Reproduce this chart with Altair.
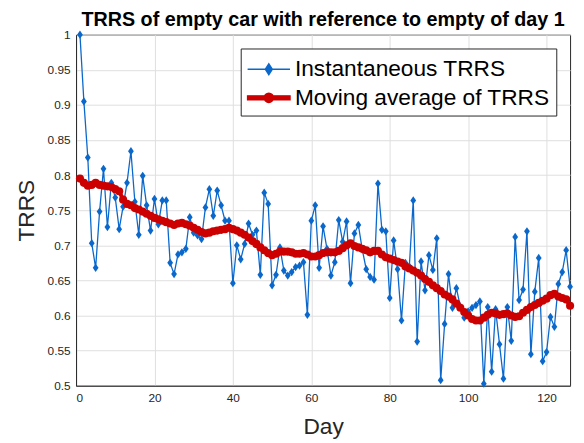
import altair as alt
import pandas as pd

# ---------------- data ----------------
days = list(range(1, 127))

instantaneous = [
    1.000, 0.905, 0.825, 0.703, 0.668, 0.748, 0.809, 0.726, 0.789, 0.768,
    0.723, 0.755, 0.789, 0.834, 0.762, 0.715, 0.799, 0.757, 0.721, 0.766,
    0.730, 0.764, 0.764, 0.675, 0.659, 0.687, 0.690, 0.695, 0.740, 0.718,
    0.714, 0.709, 0.754, 0.780, 0.742, 0.778, 0.757, 0.735, 0.735, 0.646,
    0.700, 0.680, 0.702, 0.731, 0.715, 0.721, 0.658, 0.775, 0.759, 0.643,
    0.658, 0.697, 0.664, 0.657, 0.662, 0.669, 0.671, 0.676, 0.601, 0.735,
    0.757, 0.668, 0.727, 0.695, 0.657, 0.676, 0.736, 0.705, 0.734, 0.646,
    0.717, 0.729, 0.694, 0.666, 0.655, 0.651, 0.788, 0.722, 0.720, 0.625,
    0.707, 0.666, 0.593, 0.675, 0.670, 0.764, 0.563, 0.677, 0.636, 0.686,
    0.665, 0.710, 0.508, 0.588, 0.659, 0.611, 0.639, 0.613, 0.597, 0.606,
    0.611, 0.615, 0.620, 0.503, 0.612, 0.520, 0.609, 0.559, 0.510, 0.612,
    0.564, 0.712, 0.622, 0.637, 0.720, 0.545, 0.634, 0.682, 0.535, 0.548,
    0.598, 0.584, 0.645, 0.662, 0.693, 0.641,
]

moving_avg = [
    0.795, 0.789, 0.785, 0.786, 0.789, 0.786, 0.785, 0.784, 0.783, 0.780,
    0.777, 0.765, 0.759, 0.757, 0.753, 0.751, 0.748, 0.745, 0.742, 0.739,
    0.737, 0.735, 0.733, 0.731, 0.729, 0.731, 0.732, 0.730, 0.728, 0.725,
    0.722, 0.719, 0.717, 0.718, 0.720, 0.721, 0.722, 0.723, 0.725, 0.723,
    0.721, 0.718, 0.715, 0.711, 0.706, 0.702, 0.697, 0.693, 0.689, 0.686,
    0.688, 0.691, 0.691, 0.691, 0.690, 0.688, 0.688, 0.689, 0.687, 0.684,
    0.684, 0.686, 0.689, 0.690, 0.690, 0.690, 0.692, 0.696, 0.700, 0.703,
    0.699, 0.697, 0.695, 0.693, 0.690, 0.692, 0.692, 0.687, 0.683, 0.681,
    0.679, 0.677, 0.675, 0.670, 0.667, 0.664, 0.661, 0.657, 0.652, 0.648,
    0.643, 0.639, 0.635, 0.630, 0.627, 0.623, 0.617, 0.611, 0.605, 0.600,
    0.595, 0.593, 0.593, 0.597, 0.601, 0.604, 0.603, 0.601, 0.602, 0.603,
    0.600, 0.598, 0.599, 0.604, 0.608, 0.612, 0.615, 0.618, 0.621, 0.624,
    0.629, 0.631, 0.627, 0.625, 0.623, 0.614,
]

series_names = ["Instantaneous TRRS", "Moving average of TRRS"]
x_ticks = [0, 20, 40, 60, 80, 100, 120]
y_ticks = [0.5, 0.55, 0.6, 0.65, 0.7, 0.75, 0.8, 0.85, 0.9, 0.95, 1.0]

# ---------------- styling ----------------
BLUE = "#0A68CC"
RED = "#CC0000"
FONT = "Liberation Sans"
AXIS_GREY = "#262626"

DIAMOND = "M0,-1L0.7,0L0,1L-0.7,0Z"
LEG_BLUE = "M-1,0H2.07M0.535,-0.39L0.785,0L0.535,0.39L0.285,0Z"
LEG_RED = ("M-1,-0.14H2.07V0.14H-1Z"
           "M0.87,0A0.335,0.335,0,1,1,0.2,0A0.335,0.335,0,1,1,0.87,0Z")

df_inst = pd.DataFrame({"day": days, "value": instantaneous})
df_avg = pd.DataFrame({"day": days, "value": moving_avg})
df_leg = pd.DataFrame({"day": [days[0], days[0]],
                       "value": [instantaneous[0], moving_avg[0]],
                       "series": series_names})

x_enc = alt.X(
    "day:Q",
    scale=alt.Scale(domain=[0, 126], nice=False, zero=False),
    axis=alt.Axis(values=x_ticks, title="Day", format="d"),
)
y_enc = alt.Y(
    "value:Q",
    scale=alt.Scale(domain=[0.5, 1.0], nice=False, zero=False),
    axis=alt.Axis(values=y_ticks, title="TRRS", format="~g"),
)

blue_line = alt.Chart(df_inst).mark_line(color=BLUE, strokeWidth=1.3).encode(x=x_enc, y=y_enc)
blue_pts = alt.Chart(df_inst).mark_point(
    shape=DIAMOND, filled=True, color=BLUE, size=70, opacity=1
).encode(x=x_enc, y=y_enc)
red_line = alt.Chart(df_avg).mark_line(color=RED, strokeWidth=4).encode(x=x_enc, y=y_enc)
red_pts = alt.Chart(df_avg).mark_point(
    shape="circle", filled=True, color=RED, size=68, opacity=1
).encode(x=x_enc, y=y_enc)

legend = alt.Legend(
    orient="top-right", offset=14, title=None, padding=6,
    strokeColor=AXIS_GREY, fillColor="white", cornerRadius=0,
    labelFont=FONT, labelFontSize=23, labelColor="black", labelLimit=500,
    symbolSize=784, symbolStrokeWidth=1.5, symbolOpacity=1,
    labelOffset=19, rowPadding=2,
)
leg_layer = alt.Chart(df_leg).transform_filter("datum.day < 0").mark_point(
    opacity=1, strokeWidth=1.5
).encode(
    x=x_enc, y=y_enc,
    fill=alt.Fill("series:N", scale=alt.Scale(domain=series_names, range=[BLUE, RED]), legend=legend),
    stroke=alt.Stroke("series:N", scale=alt.Scale(domain=series_names, range=[BLUE, RED]), legend=legend),
    shape=alt.Shape("series:N", scale=alt.Scale(domain=series_names, range=[LEG_BLUE, LEG_RED]), legend=legend),
)

chart = alt.layer(blue_line, blue_pts, red_line, red_pts, leg_layer).properties(
    width=501,
    height=356,
    title=alt.Title(
        "TRRS of empty car with reference to empty of day 1",
        font=FONT, fontSize=20, fontWeight="bold", color="black",
        anchor="middle", offset=0, dy=1,
    ),
    autosize=alt.AutoSizeParams(type="none"),
    padding={"left": 69, "top": 24, "right": 6, "bottom": 55},
).configure_view(
    stroke=AXIS_GREY, strokeWidth=1
).configure_axis(
    labelFont=FONT, labelFontSize=12, labelColor=AXIS_GREY,
    titleFont=FONT, titleFontSize=23, titleFontWeight="normal", titleColor=AXIS_GREY,
    domainColor=AXIS_GREY, ticks=False,
    gridColor="#DEDEDE", gridWidth=1, grid=True,
).configure_axisY(
    titlePadding=9, labelPadding=6,
).configure_axisX(
    titlePadding=12, labelPadding=7,
)

chart.save("out.html", embed_options={"renderer": "svg", "actions": False})
